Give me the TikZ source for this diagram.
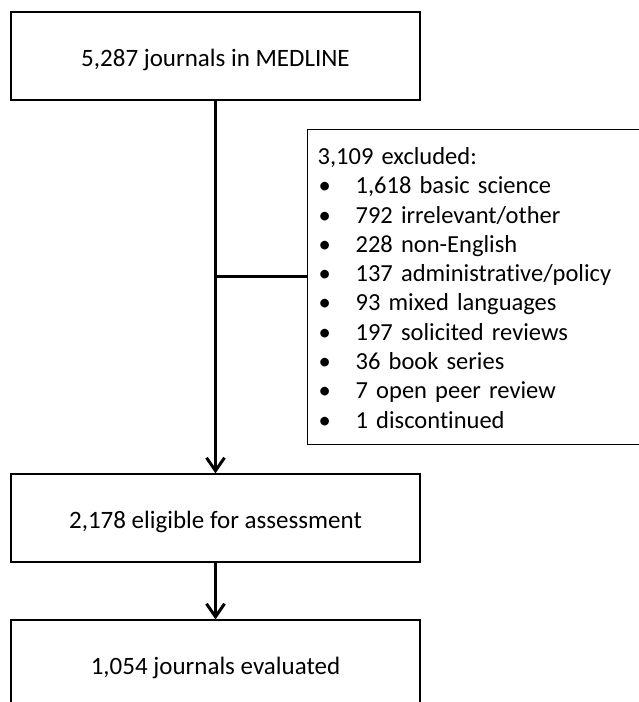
\documentclass[tikz,border=0pt]{standalone}
\usepackage{fontspec}
\setmainfont{Carlito}[Ligatures={NoCommon}]
\usetikzlibrary{arrows.meta}
\newcommand\itm{\makebox[38pt][l]{\hspace{1pt}\textbullet}}
\begin{document}
\begin{tikzpicture}[x=1pt,y=-1pt,
  stagebox/.style={draw, line width=1.3pt, minimum width=409pt, minimum height=88pt, inner sep=0pt, text height=20pt, text depth=0pt, font=\fontsize{25}{29.2}\selectfont},
  exbox/.style={draw, line width=1.3pt, anchor=north west, text width=340pt, minimum height=315pt, inner xsep=10pt, inner ysep=0pt, align=left, font=\fontsize{24.5}{29.3}\selectfont},
  conn/.style={line width=3pt},
  arr/.style={conn, -{Straight Barb[length=13pt, width=18pt]}}]
\clip (0,0) rectangle (639,702);
\fill[white] (0,0) rectangle (639,702);
\node[stagebox] (b1) at (215.5,56) {5,287 journals in MEDLINE};
\node[stagebox] (b2) at (215.5,518) {2,178 eligible for assessment};
\node[stagebox] (b3) at (215.5,664) {1,054 journals evaluated};
\node[exbox] (excl) at (307,129) {\begin{tabular}{@{}l@{}}
\rule{0pt}{27pt}3,109 excluded:\\
\itm 1,618 basic science\\
\itm 792 irrelevant/other\\
\itm 228 non-English\\
\itm 137 administrative/policy\\
\itm 93 mixed languages\\
\itm 197 solicited reviews\\
\itm 36 book series\\
\itm 7 open peer review\\
\itm 1 discontinued
\end{tabular}};
\coordinate (br) at (215.5,276);
\draw[arr] (b1.south) -- (b2.north);
\draw[arr] (b2.south) -- (b3.north);
\draw[conn] (br) -- (br -| excl.west);
\end{tikzpicture}
\end{document}
